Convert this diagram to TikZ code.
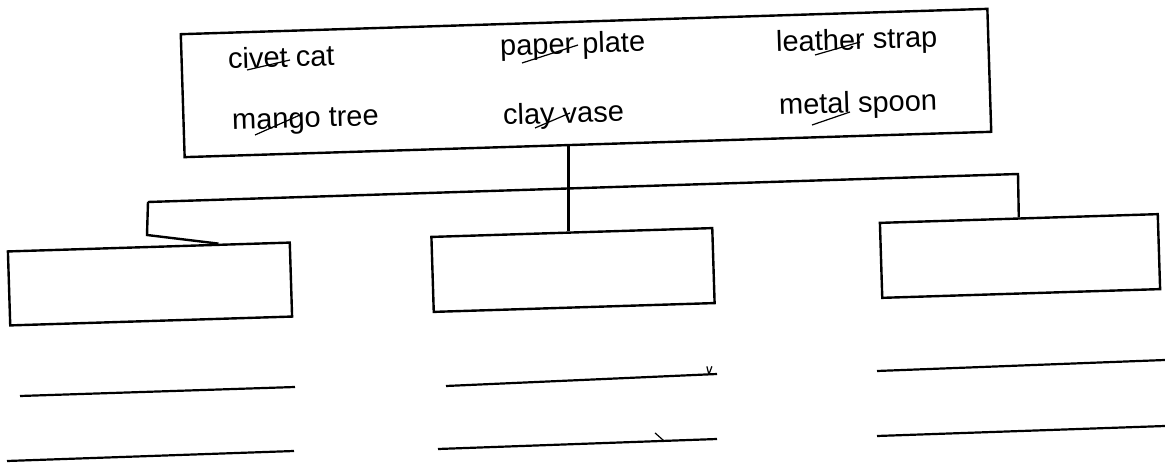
\documentclass[tikz,border=0pt]{standalone}
\usepackage{fontspec}
\setmainfont{Liberation Sans}
\usetikzlibrary{calc}
\begin{document}
\begin{tikzpicture}[x=0.5pt,y=-0.5pt,
  box/.style={draw,line width=1.2pt,inner sep=0pt,rotate=1.8},
  word/.style={anchor=base west,inner sep=0pt,rotate=1.8,font=\fontsize{14.5}{17}\selectfont},
  link/.style={line width=1.2pt},
  rule/.style={line width=1.1pt},
  scribble/.style={line width=0.6pt}]
\useasboundingbox (0,0) rectangle (1165,464);
% boxes
\node[box,minimum width=403.5pt,minimum height=61.5pt] (top) at (586,83) {};
\node[box,minimum width=141pt,minimum height=37pt] (left) at (150,284) {};
\node[box,minimum width=140.5pt,minimum height=37.5pt] (mid) at (573,270) {};
\node[box,minimum width=139pt,minimum height=37.5pt] (right) at (1020,256) {};
% words
\node[word] (w1) at (228,69) {civet cat};
\node[word] (w2) at (500,56) {paper plate};
\node[word] (w3) at (776,52) {leather strap};
\node[word] (w4) at (232,130) {mango tree};
\node[word] (w5) at (503,125) {clay vase};
\node[word] (w6) at (779,115) {metal spoon};
% scribbles
\draw[scribble] (247,70) -- (290,60);
\draw[scribble] (522,63) -- (578,45);
\draw[scribble] (815,55) -- (860,42);
\draw[scribble] (255,135) -- (300,115);
\draw[scribble] (535,128) -- (570,113);
\draw[scribble] (812,125) -- (850,112);
% connectors
\coordinate (trunk) at ($(top.south west)!0.476!(top.south east)$);
\draw[link] (trunk) -- (trunk |- mid.north);
\coordinate (busL) at (148,202);
\coordinate (busR) at (1018,174);
\coordinate (bend) at (147,235);
\draw[link] (busL) -- (busR) -- (right.north);
\draw[link] (busL) -- (bend) -- ($(left.north west)!0.745!(left.north east)$);
% writing lines
\coordinate (a1) at (20,396); \coordinate (b1) at (295,387);
\coordinate (a2) at (7,461); \coordinate (b2) at (294,451);
\coordinate (a3) at (446,386); \coordinate (b3) at (717,374);
\coordinate (a4) at (438,449); \coordinate (b4) at (717,439);
\coordinate (a5) at (877,371); \coordinate (b5) at (1165,360);
\coordinate (a6) at (877,436); \coordinate (b6) at (1165,426);
\draw[rule] (a1) -- (b1);
\draw[rule] (a2) -- (b2);
\draw[rule] (a3) -- (b3);
\draw[rule] (a4) -- (b4);
\draw[rule] (a5) -- (b5);
\draw[rule] (a6) -- (b6);
% small pencil ticks on the middle lines
\coordinate (t1) at ($(a4)!0.81!(b4)$);
\draw[scribble] (t1) -- ++(-9,-8);
\coordinate (t2) at ($(a3)!0.97!(b3)$);
\draw[scribble] (t2) -- ++(-2,-8);
\draw[scribble] (t2) -- ++(3,-8);
\end{tikzpicture}
\end{document}
